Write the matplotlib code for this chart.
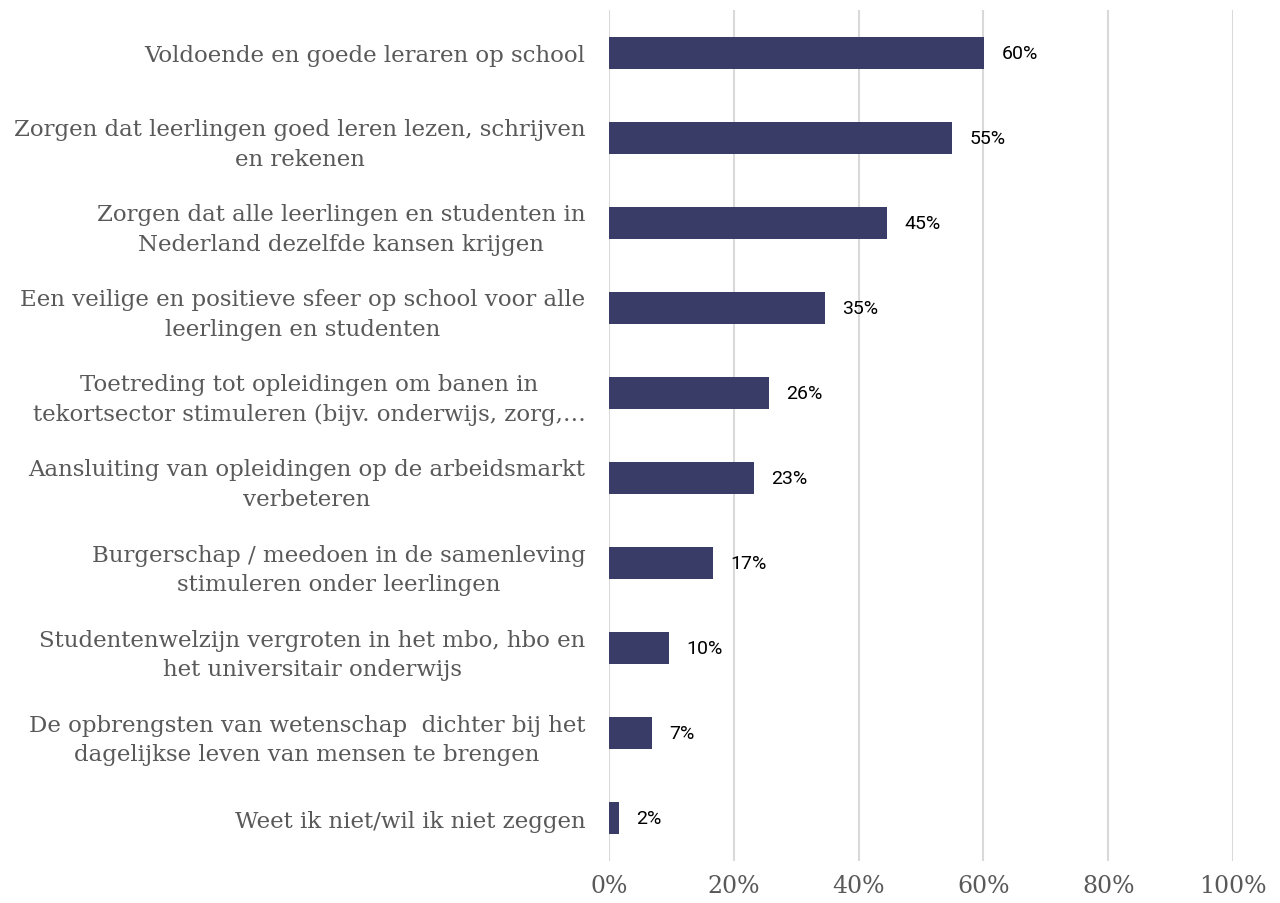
import matplotlib.pyplot as plt
from matplotlib.ticker import FuncFormatter

categories = [
    "Voldoende en goede leraren op school",
    "Zorgen dat leerlingen goed leren lezen, schrijven\nen rekenen",
    "Zorgen dat alle leerlingen en studenten in\nNederland dezelfde kansen krijgen",
    "Een veilige en positieve sfeer op school voor alle\nleerlingen en studenten",
    "Toetreding tot opleidingen om banen in\ntekortsector stimuleren (bijv. onderwijs, zorg,…",
    "Aansluiting van opleidingen op de arbeidsmarkt\nverbeteren",
    "Burgerschap / meedoen in de samenleving\nstimuleren onder leerlingen",
    "Studentenwelzijn vergroten in het mbo, hbo en\nhet universitair onderwijs",
    "De opbrengsten van wetenschap  dichter bij het\ndagelijkse leven van mensen te brengen",
    "Weet ik niet/wil ik niet zeggen",
]
values = [60.1, 55.0, 44.6, 34.6, 25.6, 23.2, 16.6, 9.6, 6.9, 1.6]
x_ticks = [0, 20, 40, 60, 80, 100]

bar_color = "#383c67"
text_gray = "#595959"

fig = plt.figure(figsize=(12.8, 9.04), dpi=100)
ax = fig.add_axes([0.4758, 0.047, 0.4875, 0.9403])

pos = list(range(len(categories)))
ax.barh(pos, values, height=0.376, color=bar_color, zorder=3)
for p, v in zip(pos, values):
    ax.text(v + 2.8, p, f"{round(v)}%", va="center", ha="left",
            fontsize=14, family="Roboto", color="black")

ax.set_ylim(len(categories) - 0.5, -0.5)
ax.set_xlim(0, 100)
ax.set_xticks(x_ticks)
ax.xaxis.set_major_formatter(FuncFormatter(lambda v, _: f"{v:.0f}%"))
ax.set_yticks(pos)
ax.set_yticklabels(categories, family="DejaVu Serif", fontsize=16.5,
                   color=text_gray, linespacing=1.42, multialignment="center")
ax.tick_params(axis="y", length=0, pad=17)
ax.tick_params(axis="x", length=0, pad=10, labelsize=17, labelcolor=text_gray)
for lbl in ax.get_xticklabels():
    lbl.set_family("DejaVu Serif")

ax.grid(axis="x", color="#d9d9d9", linewidth=1.5, zorder=0)
for s in ax.spines.values():
    s.set_visible(False)

fig.savefig("out.png", dpi=100)
